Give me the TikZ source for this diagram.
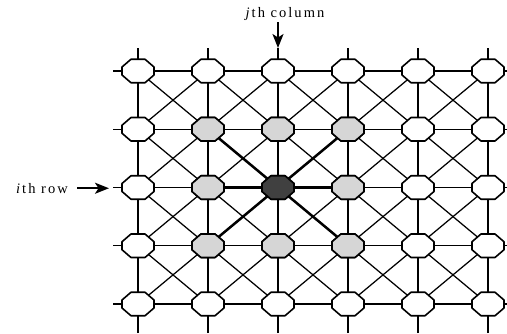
\documentclass[tikz,border=0pt]{standalone}
\usepackage{fontspec}
\setmainfont{Liberation Serif}
\usetikzlibrary{arrows.meta,calc}
\tikzset{
  octo/.pic={
    \path[pic actions] (-16,-4) -- (-7,-11.75) -- (7,-11.75) -- (16,-4) -- (16,4) -- (7,11.75) -- (-7,11.75) -- (-16,4) -- cycle;
  },
  oct/.style={draw=black, line width=1.6pt, fill=white, line join=round},
  nbr/.style={oct, fill=black!16},
  ctr/.style={oct, fill=black!75},
  link/.style={line width=1.25pt},
  strong/.style={line width=2.5pt},
  pointer/.style={line width=1.7pt, -{Stealth[length=14pt,width=11pt,inset=3.5pt]}},
  lbl/.style={font=\fontsize{14.5}{16}\selectfont\addfontfeature{LetterSpace=14}, inner sep=0pt}
}
\begin{document}
\begin{tikzpicture}[x=1pt,y=-1pt]
\useasboundingbox (0,0) rectangle (507,333);
% grid positions (named nodes)
\foreach \r in {1,...,5}{
  \foreach \c in {1,...,6}{
    \node[coordinate] (p\r\c) at ({138+70*(\c-1)},{71+58.25*(\r-1)}) {};
  }
}
% stub ends
\foreach \c in {1,...,6}{
  \coordinate (t\c) at ($(p1\c)+(0,-23)$);
  \coordinate (b\c) at ($(p5\c)+(0,29)$);
}
\foreach \r in {1,...,5}{
  \coordinate (l\r) at ($(p\r1)+(-25,0)$);
  \coordinate (rr\r) at ($(p\r6)+(25,0)$);
}
\foreach \c in {1,...,6}{
  \draw[link] (t\c) -- (p1\c);
  \draw[link] (b\c) -- (p5\c);
}
\foreach \r in {1,...,5}{
  \draw[link] (l\r) -- (p\r1);
  \draw[link] (rr\r) -- (p\r6);
}
% horizontal links
\foreach \r in {1,...,5}{
  \foreach \c [evaluate=\c as \n using int(\c+1)] in {1,...,5}{
    \draw[link] (p\r\c) -- (p\r\n);
  }
}
% vertical and diagonal links
\foreach \r [evaluate=\r as \m using int(\r+1)] in {1,...,4}{
  \foreach \c in {1,...,6}{
    \draw[link] (p\r\c) -- (p\m\c);
  }
  \foreach \c [evaluate=\c as \n using int(\c+1)] in {1,...,5}{
    \draw[link] (p\r\c) -- (p\m\n);
    \draw[link] (p\r\n) -- (p\m\c);
  }
}
% strong links from centre
\foreach \q in {22,23,24,32,34,42,43,44}{
  \draw[strong] (p33) -- (p\q);
}
% octagons
\foreach \r in {1,...,5}{
  \foreach \c in {1,...,6}{
    \pic[oct] at (p\r\c) {octo};
  }
}
\foreach \q in {22,23,24,32,34,42,43,44}{
  \pic[nbr] at (p\q) {octo};
}
\pic[ctr] at (p33) {octo};
% labels and pointers
\node[lbl] (jcol) at (285,14) {\textit{j}th column};
\node[lbl, anchor=east] (irow) at (68,188.5) {\textit{i}th row};
\coordinate (jtop) at (278,22);
\draw[pointer] (jtop) -- (t3);
\coordinate (ia) at (77,188.25);
\coordinate (ib) at (109,188.25);
\draw[pointer] (ia) -- (ib);
\end{tikzpicture}
\end{document}
